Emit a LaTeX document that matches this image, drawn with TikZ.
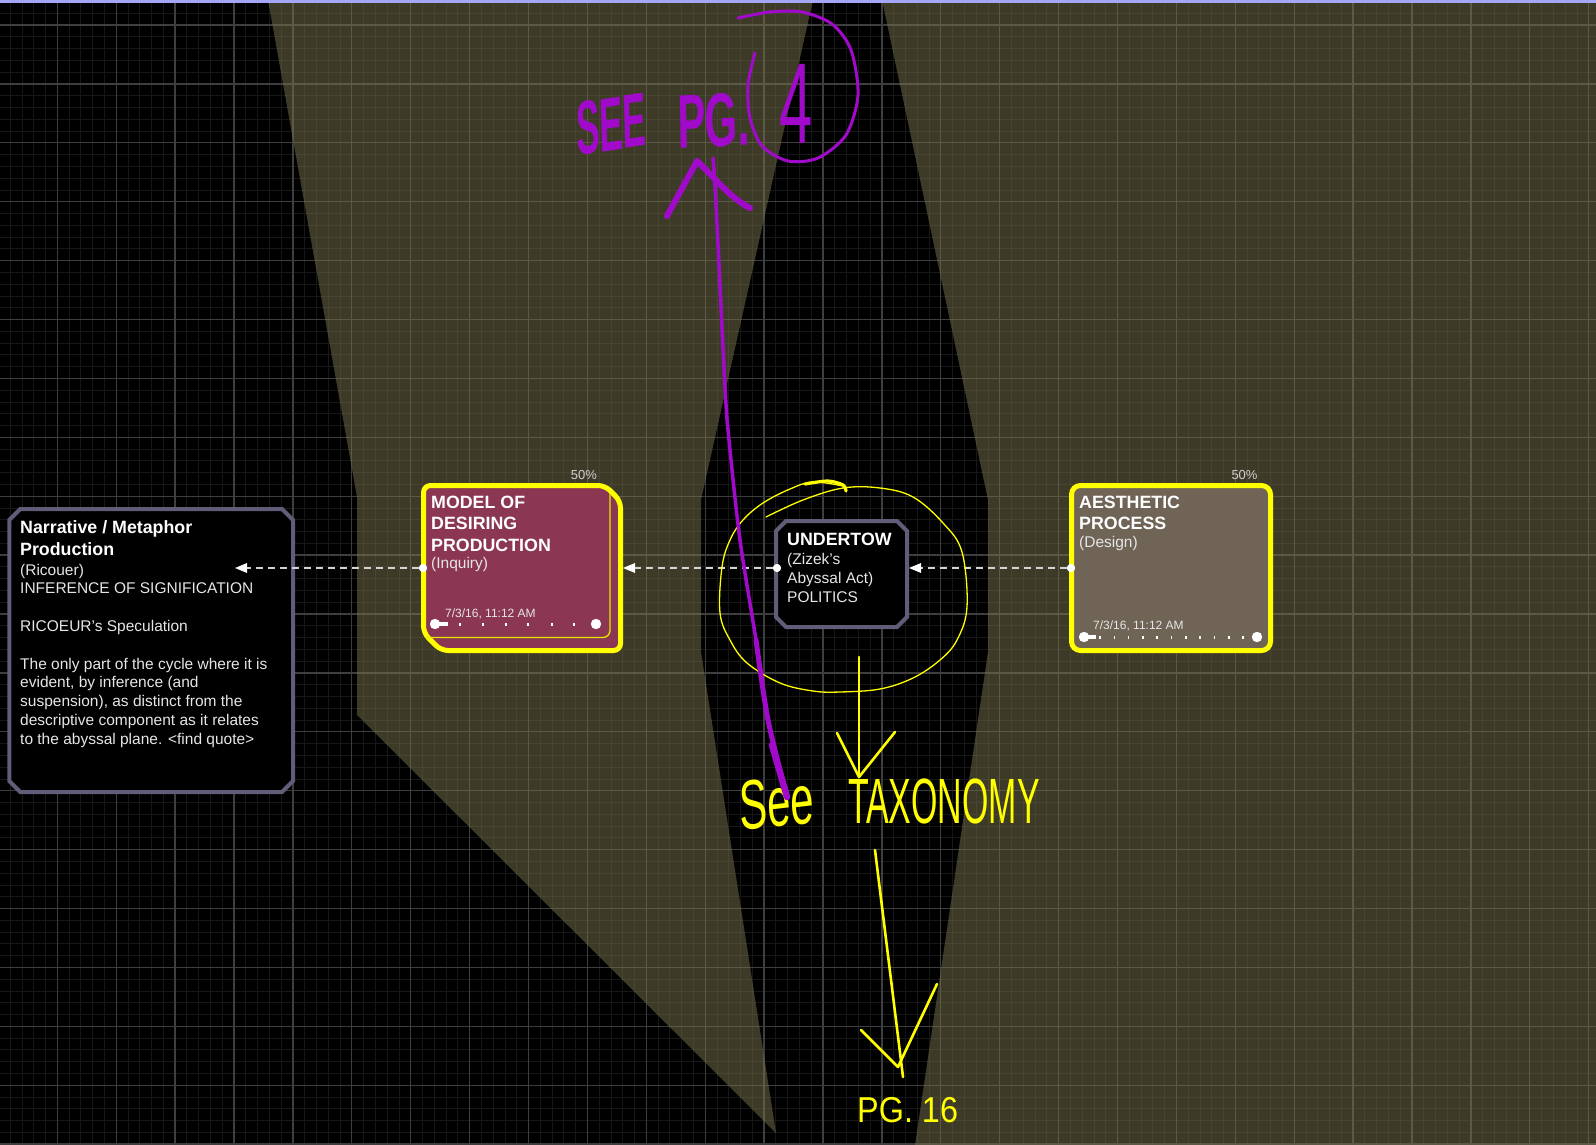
\documentclass[tikz,border=0pt]{standalone}
\usepackage{fontspec}
\setmainfont{Liberation Sans}
\usepackage{graphicx}
\usetikzlibrary{arrows.meta}

\definecolor{gridminor}{HTML}{171717}
\definecolor{gridmajor}{HTML}{3E3E3E}
\definecolor{olivetint}{HTML}{7A7650}
\definecolor{lavender}{HTML}{A6A6F6}
\definecolor{framegray}{HTML}{5F5D78}
\definecolor{raspberry}{HTML}{8B3652}
\definecolor{taupe}{HTML}{6F6456}
\definecolor{marker}{HTML}{FFFF00}
\definecolor{markerthin}{HTML}{E6E600}
\definecolor{penviolet}{HTML}{A20ACB}
\definecolor{bodytext}{HTML}{E6E6E6}
\definecolor{pcttext}{HTML}{D0D0D0}
\definecolor{linkgray}{HTML}{D4D4D4}

% chamfered outline drawn inside a named area node
% #1 node, #2 chamfer, #3 inset (half the stroke)
\newcommand\chamferframe[3]{%
  \draw[cardframe]
    ([xshift=#2pt+#3pt, yshift=-#3pt]#1.north west) --
    ([xshift=-#2pt-#3pt, yshift=-#3pt]#1.north east) --
    ([xshift=-#3pt, yshift=-#2pt-#3pt]#1.north east) --
    ([xshift=-#3pt, yshift=#2pt+#3pt]#1.south east) --
    ([xshift=-#2pt-#3pt, yshift=#3pt]#1.south east) --
    ([xshift=#2pt+#3pt, yshift=#3pt]#1.south west) --
    ([xshift=#3pt, yshift=#2pt+#3pt]#1.south west) --
    ([xshift=#3pt, yshift=-#2pt-#3pt]#1.north west) -- cycle;}

\begin{document}
\begin{tikzpicture}[x=1pt, y=-1pt,
  ttl/.style={anchor=base west, inner sep=0pt, text=white,
    font=\bfseries\fontsize{17.8}{21}\selectfont},
  txt/.style={anchor=base west, inner sep=0pt, text=bodytext,
    font=\fontsize{15.5}{18}\selectfont},
  stamp/.style={anchor=base west, inner sep=0pt, text=bodytext,
    font=\fontsize{12}{14}\selectfont},
  pct/.style={anchor=base, inner sep=0pt, text=pcttext,
    font=\fontsize{13}{15}\selectfont},
  hand/.style={anchor=base west, inner sep=0pt},
  link/.style={draw=linkgray, line width=1.6pt, dash pattern=on 7pt off 5pt,
    -{Triangle[length=12pt, width=9.5pt, color=white]}},
  port/.style={circle, fill=white, inner sep=0pt, minimum size=8pt},
  area/.style={rectangle, inner sep=0pt, outer sep=0pt},
  cardframe/.style={draw=framegray, line width=4pt, fill=black},
  knob/.style={fill=white},
  marker pen/.style={draw=marker, line cap=round, line join=round},
  violet pen/.style={draw=penviolet, line cap=round, line join=round}]

\useasboundingbox (0,0) rectangle (1596,1145);
\fill[black] (0,0) rectangle (1596,1145);

% ---------- grid ----------
\foreach \i in {0,...,136}
  \draw[gridminor, line width=0.8pt] ({-1.6+11.78*\i},0) -- ({-1.6+11.78*\i},1145);
\foreach \i in {0,...,97}
  \draw[gridminor, line width=0.8pt] (0,{1.44+11.78*\i}) -- (1596,{1.44+11.78*\i});
\foreach \i in {0,...,27}
  \draw[gridmajor, line width=1.3pt] ({-1.6+58.9*\i},0) -- ({-1.6+58.9*\i},1145);
\foreach \i in {0,...,19}
  \draw[gridmajor, line width=1.3pt] (0,{25+58.9*\i}) -- (1596,{25+58.9*\i});

% ---------- tinted bands ----------
\fill[olivetint, opacity=0.5] (268,0) -- (813,0) -- (701,500) -- (701,652)
  -- (776,1133) -- (357,715) -- (357,497) -- cycle;
\fill[olivetint, opacity=0.5] (882,0) -- (1596,0) -- (1596,1145) -- (915,1145)
  -- (988,652) -- (988,500) -- cycle;

\fill[lavender] (0,0) rectangle (1596,2.6);

% ---------- cards ----------
% Narrative card
\node[area, minimum width=287.7pt, minimum height=287pt] (narr) at (151.15,650.5) {};
\chamferframe{narr}{11}{2}
\node[ttl] (narr-t1) at (20,533) {Narrative / Metaphor};
\node[ttl] (narr-t2) at (20,555) {Production};
\node[txt] (narr-l1) at (20,575) {(Ricouer)};
\node[txt] (narr-l2) at (20,593.8) {INFERENCE OF SIGNIFICATION};
\node[txt] (narr-l3) at (20,631.4) {RICOEUR’s Speculation};
\node[txt] (narr-l4) at (20,669) {The only part of the cycle where it is};
\node[txt] (narr-l5) at (20,687.8) {evident, by inference (and};
\node[txt] (narr-l6) at (20,706.6) {suspension), as distinct from the};
\node[txt] (narr-l7) at (20,725.4) {descriptive component as it relates};
\node[txt] (narr-l8) at (20,744.2) {to the abyssal plane. <find quote>};
\coordinate (narr-in) at (235,568);

% Model of desiring production (stacked card)
\node[area, minimum width=202pt, minimum height=170pt] (model) at (522,568) {};
\draw[draw=marker, line width=5pt, fill=raspberry, rounded corners=7pt]
  (423.5,560) -- (423.5,485.5) -- (605,485.5) -- (620.5,501) -- (620.5,650.5)
  -- (441,650.5) -- (423.5,633) -- cycle;
\draw[markerthin, line width=1.3pt, rounded corners=7pt]
  (610,494) -- (610,637.5) -- (426,637.5);
\node[ttl] (model-t1) at (431,508) {MODEL OF};
\node[ttl] (model-t2) at (431,529.5) {DESIRING};
\node[ttl] (model-t3) at (431,551) {PRODUCTION};
\node[txt] (model-l1) at (431,568.5) {(Inquiry)};
\node[stamp] (model-date) at (445,617.3) {7/3/16, 11:12 AM};
\node[pct] (model-pct) at (584,479.3) {50\%};
\fill[knob] (435,624) circle (5.2pt);
\fill[knob] (435,622) rectangle (448,626);
\foreach \x in {460,483,506,528,552,574}
  \fill[knob] (\x-0.8,622.5) rectangle (\x+0.8,626);
\fill[knob] (596,624) circle (5.2pt);

% Undertow card
\node[area, minimum width=135pt, minimum height=110pt] (und) at (841.5,574) {};
\chamferframe{und}{10}{2}
\node[ttl] (und-t1) at (787,545) {UNDERTOW};
\node[txt] (und-l1) at (787,564.5) {(Zizek’s};
\node[txt] (und-l2) at (787,583.5) {Abyssal Act)};
\node[txt] (und-l3) at (787,602.7) {POLITICS};

% Aesthetic process card
\node[rectangle, rounded corners=9pt, draw=marker, line width=5pt, fill=taupe,
  minimum width=199pt, minimum height=165pt, inner sep=0pt] (aes) at (1171,568) {};
\node[ttl] (aes-t1) at (1079,508) {AESTHETIC};
\node[ttl] (aes-t2) at (1079,529.5) {PROCESS};
\node[txt] (aes-l1) at (1079,547.5) {(Design)};
\node[stamp] (aes-date) at (1093,629.3) {7/3/16, 11:12 AM};
\node[pct] (aes-pct) at (1244.5,479.3) {50\%};
\fill[knob] (1084,637) circle (5.2pt);
\fill[knob] (1084,635) rectangle (1096,639);
\foreach \x in {1100,1114.3,1128.6,1142.9,1157.2,1171.5,1185.8,1200.1,1214.4,1228.7,1243}
  \fill[knob] (\x-0.8,635.5) rectangle (\x+0.8,639);
\fill[knob] (1257,637) circle (5.2pt);

% ---------- ports and links ----------
\node[port] (model-dot) at (423,568) {};
\node[port] (und-dot) at (777,568) {};
\node[port] (aes-dot) at (1071,568) {};

\draw[link] (aes-dot) -- (aes-dot -| und.east);
\draw[link] (und-dot) -- (und-dot -| model.east);
\draw[link] (model-dot) -- (narr-in);
\node[port] at (model-dot) {};
\node[port] at (und-dot) {};
\node[port] at (aes-dot) {};

% ---------- yellow marker notes ----------
\draw[marker pen, line width=1.3pt] plot[smooth, tension=0.6] coordinates {
  (766,517) (803,500) (843,488) (880,488) (913,497) (943,523) (962,552)
  (967,607) (957,640) (940,660) (913,678) (880,689) (840,692) (813,691)
  (780,683) (747,663) (730,640) (720,613) (722,567) (730,540) (743,520)
  (763,503) (790,489) (813,482) (843,486)};
\draw[marker pen, line width=3.2pt] plot[smooth] coordinates {
  (805,484) (828,481) (843,485) (846,491)};

\coordinate (ring-foot) at (859,657);
\coordinate (tax-head) at (859,777);
\draw[marker pen, line width=2.6pt] (ring-foot) -- (tax-head);
\draw[marker pen, line width=2.6pt] (837,733) -- (tax-head) -- (895,732);

\node[hand, text=marker, font=\fontsize{70}{70}\selectfont, xscale=0.6, rotate=4]
  (see) at (740,831) {See};
\node[hand, text=marker, font=\fontsize{64}{64}\selectfont, xscale=0.53]
  (tax) at (848,823) {TAXONOMY};

\coordinate (tax-foot) at (875,850);
\coordinate (pg-head) at (903,1077);
\draw[marker pen, line width=2.6pt] (tax-foot) -- (pg-head);
\draw[marker pen, line width=2.6pt] (861,1030) -- (898,1067) -- (937,984);
\node[hand, text=marker, font=\fontsize{36}{36}\selectfont, xscale=0.9]
  (pg16) at (857,1122) {PG. 16};

% ---------- violet pen notes ----------
\draw[violet pen, line width=3.5pt] plot[smooth] coordinates {
  (713,158) (716,204) (725,387) (729,440) (740,540) (756,640) (768,720) (787,797)};
\draw[violet pen, line width=5pt] plot[smooth] coordinates {
  (756,640) (768,720) (787,797)};
\draw[violet pen, line width=6.5pt] (772,745) -- (787,797);
\draw[violet pen, line width=6pt] (667,216) -- (697,161)
  .. controls (713,176) and (730,198) .. (750,208);

\node[hand, text=penviolet, font=\bfseries\fontsize{76}{76}\selectfont,
  xscale=0.46, rotate=4] (see-word) at (577,156) {SEE};
\node[hand, text=penviolet, font=\bfseries\fontsize{76}{76}\selectfont,
  xscale=0.55, rotate=2] (pg-word) at (678,149) {PG.};
\draw[violet pen, line width=3pt] plot[smooth] coordinates {
  (738,18) (770,12) (802,12) (832,24) (851,50) (858,95) (846,135) (818,158)
  (788,161) (762,146) (750,118) (748,85) (755,53)};
\node[hand, text=penviolet, font=\fontsize{115}{115}\selectfont, xscale=0.52]
  (four) at (779,143) {4};

\end{tikzpicture}
\end{document}
